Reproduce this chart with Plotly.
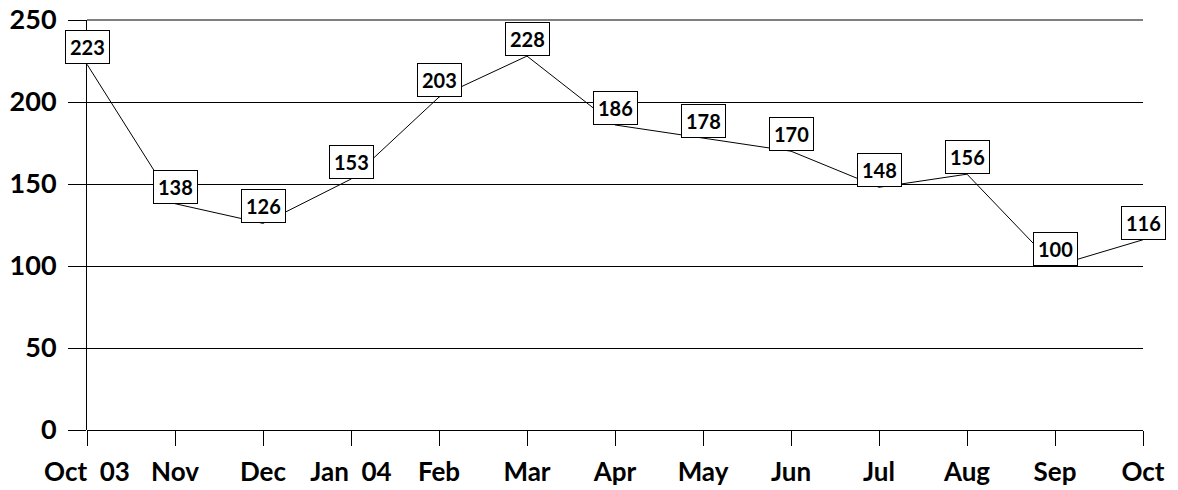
import plotly.graph_objects as go

months = ["Oct  03", "Nov", "Dec", "Jan  04", "Feb", "Mar", "Apr",
          "May", "Jun", "Jul", "Aug", "Sep", "Oct"]
values = [223, 138, 126, 153, 203, 228, 186, 178, 170, 148, 156, 100, 116]
y_ticks = [0, 50, 100, 150, 200, 250]

font_name = "Lato"

fig = go.Figure()
fig.add_trace(go.Scatter(
    x=list(range(len(months))), y=values, mode="lines",
    line=dict(color="black", width=1),
    hoverinfo="y", showlegend=False,
))

for i, v in enumerate(values):
    fig.add_annotation(
        x=i, y=v, text="<b>%d</b>" % v, showarrow=False,
        xanchor="center", yanchor="bottom",
        font=dict(family=font_name, size=20, color="black"),
        bgcolor="white", bordercolor="black", borderwidth=1, borderpad=4,
    )

# top gridline (plotly drops gridlines sitting on the plot edge)
fig.add_shape(type="line", xref="x domain", yref="y domain",
              x0=0, x1=1, y0=1, y1=1, line=dict(color="black", width=1),
              layer="below")

fig.update_xaxes(
    range=[0, 12], tickvals=list(range(len(months))),
    ticktext=["<b>%s</b>" % m for m in months],
    showgrid=False, showline=False, zeroline=False,
    ticks="outside", ticklen=15, tickcolor="black", tickwidth=1,
    ticklabelstandoff=4,
    tickfont=dict(family=font_name, size=26, color="black"),
    automargin=False,
)
fig.update_yaxes(
    range=[0, 250], tickvals=y_ticks,
    ticktext=["<b>%d</b>" % t for t in y_ticks],
    showgrid=True, gridcolor="black", gridwidth=1,
    showline=True, linecolor="black", linewidth=1,
    ticks="outside", ticklen=18, tickcolor="black", tickwidth=1,
    ticklabelstandoff=6,
    tickfont=dict(family=font_name, size=27, color="black"),
    zeroline=True, zerolinecolor="black", zerolinewidth=1,
    automargin=False,
)
fig.update_layout(
    width=1178, height=490,
    margin=dict(l=87, r=35, t=20, b=60),
    plot_bgcolor="white", paper_bgcolor="white",
)

fig.write_html("out.html", config={"displayModeBar": False},
               post_script="document.body.style.margin='0';")
